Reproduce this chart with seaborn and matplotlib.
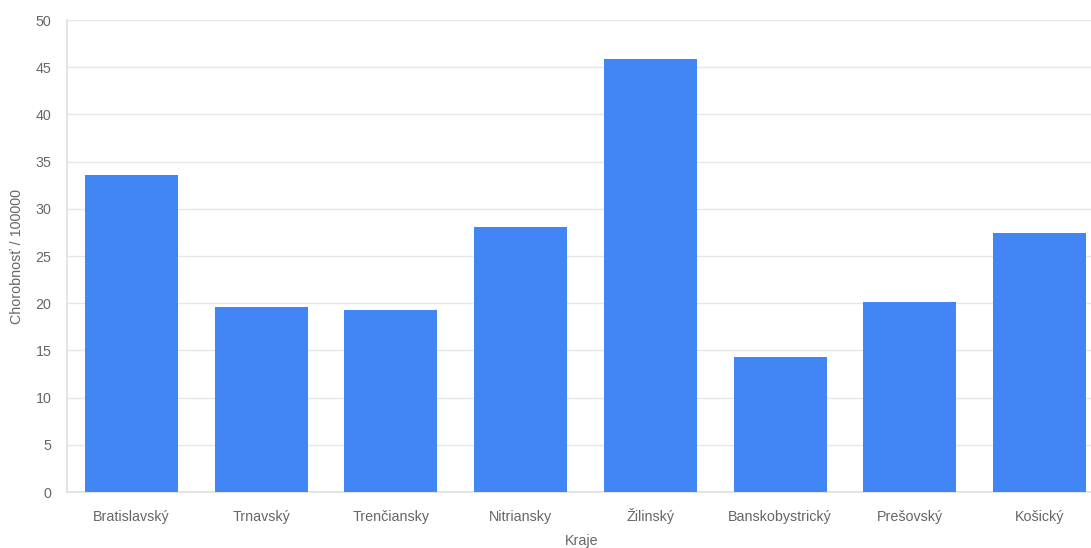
import matplotlib
matplotlib.use("Agg")
import matplotlib.pyplot as plt
import seaborn as sns
import pandas as pd

kraje = ["Bratislavský", "Trnavský", "Trenčiansky", "Nitriansky", "Žilinský",
         "Banskobystrický", "Prešovský", "Košický"]
chorobnost = [33.6, 19.6, 19.3, 28.1, 45.9, 14.3, 20.1, 27.4]
y_ticks = [0, 5, 10, 15, 20, 25, 30, 35, 40, 45, 50]

sns.set_theme(style="white")
plt.rcParams['font.family'] = ['Liberation Sans', 'DejaVu Sans']

df = pd.DataFrame({"Kraje": kraje, "Chorobnost": chorobnost})

fig = plt.figure(figsize=(10.91, 5.48), dpi=100)
ax = fig.add_axes([66.6/1091, 1-492/548, (1104.6-66.6)/1091, (492-20)/548])

sns.barplot(data=df, x="Kraje", y="Chorobnost", color="#4285F4", saturation=1,
            width=0.717, linewidth=0, ax=ax, zorder=3)

ax.set_ylim(0, 50)
ax.set_xlim(-0.5, len(kraje) - 0.5)
ax.set_yticks(y_ticks)
ax.yaxis.grid(True, color="#e6e6e6", linewidth=1, zorder=0)
ax.xaxis.grid(False)
for s in ["top", "right"]:
    ax.spines[s].set_visible(False)
ax.spines["left"].set_color("#e0e0e0")
ax.spines["bottom"].set_color("#e0e0e0")
ax.tick_params(axis="both", colors="#666666", labelsize=10.3, length=7, width=1)
ax.tick_params(axis="y", color="#e6e6e6", pad=4)
ax.tick_params(axis="x", color="#e6e6e6", length=6, pad=15)
for lbl in ax.get_xticklabels():
    lbl.set_verticalalignment("baseline")
for lbl in ax.get_xticklabels() + ax.get_yticklabels():
    lbl.set_color("#666666")

ax.set_xlabel("Kraje", color="#666666", fontsize=10.3)
ax.xaxis.set_label_coords((582 - 66.6) / (1104.6 - 66.6), -(545 - 492) / 472)
ax.xaxis.label.set_verticalalignment("baseline")
ax.set_ylabel("Chorobnosť / 100000", color="#666666", fontsize=10.3, labelpad=8)

fig.savefig("out.png", dpi=100, facecolor="white")
